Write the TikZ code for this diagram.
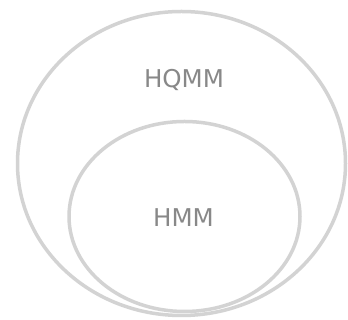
\documentclass[tikz,border=0pt]{standalone}
\usepackage{fontspec}
\setmainfont{DejaVu Sans}
\definecolor{ringgray}{HTML}{D3D3D3}
\definecolor{labelgray}{HTML}{888888}
\begin{document}
\begin{tikzpicture}[x=1pt,y=1pt,
  ring/.style={draw=ringgray,line width=3.5pt},
  lbl/.style={text=labelgray,font=\fontsize{24.5}{28}\selectfont,anchor=base,inner sep=0pt}]
\useasboundingbox (0,0) rectangle (348,320);
\draw[ring] (181.5,156.5) ellipse [x radius=164, y radius=152];
\draw[ring] (184.5,103.5) ellipse [x radius=115.5, y radius=95];
\node[lbl] (hqmm) at (184,232) {HQMM};
\node[lbl] (hmm) at (183.5,93) {HMM};
\end{tikzpicture}
\end{document}
